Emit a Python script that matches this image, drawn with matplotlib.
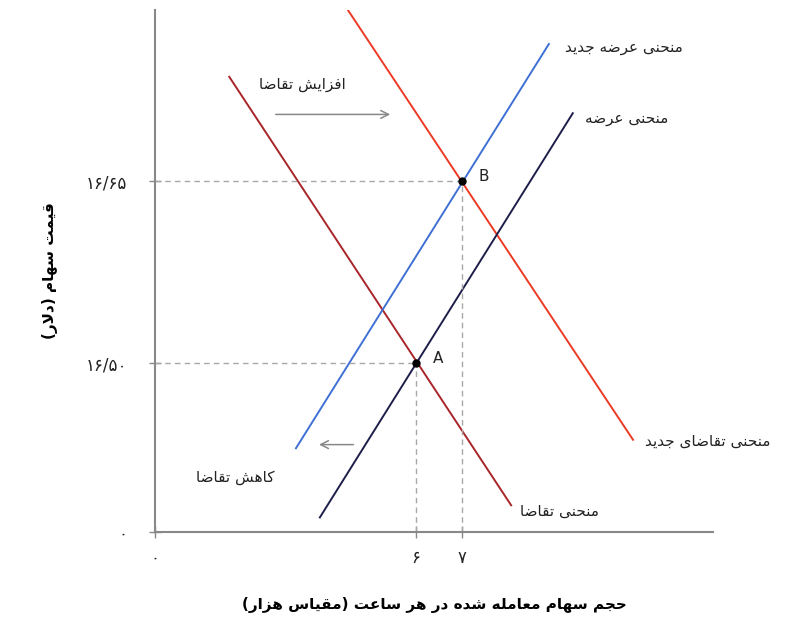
import matplotlib

matplotlib.use("Agg")
import matplotlib.pyplot as plt

# Arabic/Persian presentation forms: isolated, final, initial, medial
FORMS = {
    "ا": ("\ufe8d", "\ufe8e", None, None),
    "ب": ("\ufe8f", "\ufe90", "\ufe91", "\ufe92"),
    "ت": ("\ufe95", "\ufe96", "\ufe97", "\ufe98"),
    "ج": ("\ufe9d", "\ufe9e", "\ufe9f", "\ufea0"),
    "ح": ("\ufea1", "\ufea2", "\ufea3", "\ufea4"),
    "د": ("\ufea9", "\ufeaa", None, None),
    "ر": ("\ufead", "\ufeae", None, None),
    "ز": ("\ufeaf", "\ufeb0", None, None),
    "س": ("\ufeb1", "\ufeb2", "\ufeb3", "\ufeb4"),
    "ش": ("\ufeb5", "\ufeb6", "\ufeb7", "\ufeb8"),
    "ض": ("\ufebd", "\ufebe", "\ufebf", "\ufec0"),
    "ع": ("\ufec9", "\ufeca", "\ufecb", "\ufecc"),
    "ف": ("\ufed1", "\ufed2", "\ufed3", "\ufed4"),
    "ق": ("\ufed5", "\ufed6", "\ufed7", "\ufed8"),
    "ک": ("\ufb8e", "\ufb8f", "\ufb90", "\ufb91"),
    "ل": ("\ufedd", "\ufede", "\ufedf", "\ufee0"),
    "م": ("\ufee1", "\ufee2", "\ufee3", "\ufee4"),
    "ن": ("\ufee5", "\ufee6", "\ufee7", "\ufee8"),
    "ه": ("\ufee9", "\ufeea", "\ufeeb", "\ufeec"),
    "و": ("\ufeed", "\ufeee", None, None),
    "ی": ("\ufbfc", "\ufbfd", "\ufbfe", "\ufbff"),
}


def fa(text):
    # minimal shaping + right-to-left reordering, matplotlib does neither
    def dual(c):
        return c in FORMS and FORMS[c][2] is not None

    out = []
    i = 0
    while i < len(text):
        c = text[i]
        prev = text[i - 1] if i > 0 else None
        nxt = text[i + 1] if i + 1 < len(text) else None
        if c not in FORMS:
            out.append(c)
            i += 1
            continue
        link_prev = prev is not None and dual(prev)
        if c == "ل" and nxt == "ا":
            out.append("\ufefc" if link_prev else "\ufefb")
            i += 2
            continue
        link_next = dual(c) and nxt in FORMS
        iso, fin, ini, med = FORMS[c]
        if link_prev and link_next:
            out.append(med)
        elif link_prev:
            out.append(fin)
        elif link_next:
            out.append(ini)
        else:
            out.append(iso)
        i += 1
    swap = {"(": ")", ")": "("}
    return "".join(swap.get(c, c) for c in reversed(out))


# chart data (thousands of shares per hour, price in dollars)
demand_x = [1.94, 8.07]
demand_y = [16.736, 16.383]
new_demand_x = [4.52, 10.72]
new_demand_y = [16.791, 16.437]
supply_x = [3.91, 9.41]
supply_y = [16.373, 16.706]
new_supply_x = [3.39, 8.89]
new_supply_y = [16.430, 16.763]

eq_points = ["A", "B"]
eq_qty = [6, 7]
eq_price = [16.50, 16.65]

x_min, x_max = 0.326, 12.46
y_min, y_max = 16.361, 16.791
x_ticks = [x_min, 6, 7]
x_tick_labels = ["۰", "۶", "۷"]
y_ticks = [y_min, 16.50, 16.65]
y_tick_labels = ["۰", "۱۶/۵۰", "۱۶/۶۵"]

curve_labels = ["منحنی عرضه جدید", "منحنی عرضه", "منحنی تقاضای جدید", "منحنی تقاضا"]
curve_label_x = [9.24, 9.67, 10.98, 8.26]
curve_label_y = [16.760, 16.702, 16.436, 16.378]

fig = plt.figure(figsize=(8.1, 6.27), dpi=100)
ax = fig.add_axes([0.1914, 0.1515, 0.6889, 0.8325])

gray = "#888888"
dash_gray = "#a8a8a8"
ax.plot(demand_x, demand_y, color="#a8252a", lw=1.4)
ax.plot(new_demand_x, new_demand_y, color="#ec3a24", lw=1.4)
ax.plot(supply_x, supply_y, color="#1e1e4a", lw=1.4)
ax.plot(new_supply_x, new_supply_y, color="#3f70d4", lw=1.4)

for name, q, p in zip(eq_points, eq_qty, eq_price):
    ax.plot([x_min, q], [p, p], color=dash_gray, lw=1, ls=(0, (4, 3)))
    ax.plot([q, q], [y_min, p], color=dash_gray, lw=1, ls=(0, (4, 3)))
    ax.plot(q, p, "o", color="black", ms=5, zorder=5)
    ax.text(q + 0.37, p + 0.004, name, fontsize=11, color="#222222",
            ha="left", va="center")

for lab, lx, ly in zip(curve_labels, curve_label_x, curve_label_y):
    ax.text(lx, ly, fa(lab), fontsize=11, color="#222222", ha="left", va="center")

# demand shift arrows
ax.annotate("", xy=(5.5, 16.705), xytext=(2.89, 16.705),
            arrowprops=dict(arrowstyle="->", color=gray, lw=1.1,
                            mutation_scale=14))
ax.text(3.52, 16.730, fa("افزایش تقاضا"), fontsize=11, color="#222222",
        ha="center", va="center")
ax.annotate("", xy=(3.83, 16.433), xytext=(4.70, 16.433),
            arrowprops=dict(arrowstyle="->", color=gray, lw=1.1,
                            mutation_scale=14))
ax.text(2.07, 16.406, fa("کاهش تقاضا"), fontsize=11, color="#222222",
        ha="center", va="center")

ax.set_xlim(x_min, x_max)
ax.set_ylim(y_min, y_max)
ax.set_xticks(x_ticks)
ax.set_xticklabels(x_tick_labels)
ax.set_yticks(y_ticks)
ax.set_yticklabels(y_tick_labels)
ax.tick_params(axis="both", direction="inout", length=8, width=1,
               color=gray, labelsize=12, labelcolor="#222222")
ax.tick_params(axis="x", pad=8)
ax.tick_params(axis="y", pad=16)
for side in ["top", "right"]:
    ax.spines[side].set_visible(False)
for side in ["left", "bottom"]:
    ax.spines[side].set_color(gray)
    ax.spines[side].set_linewidth(1.5)

ax.set_xlabel(fa("حجم سهام معامله شده در هر ساعت (مقیاس هزار)"),
              fontsize=11, fontweight="bold", labelpad=22)
ax.set_ylabel(fa("قیمت سهام (دلار)"), fontsize=11, fontweight="bold",
              labelpad=20)

fig.savefig("out.png", dpi=100)
